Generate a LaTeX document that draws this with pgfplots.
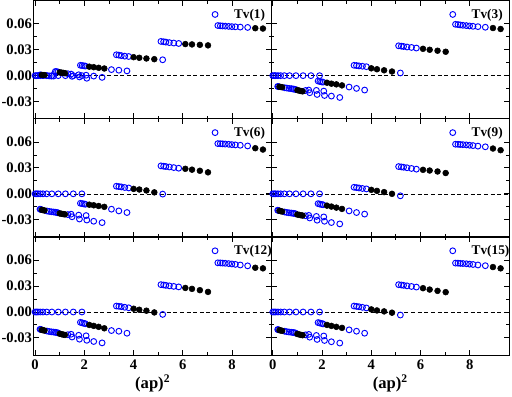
\documentclass[border=0pt]{standalone}
\usepackage{fontspec}
\setmainfont{Liberation Serif}
\usepackage{pgfplots}
\pgfplotsset{compat=1.18}
\usepgfplotslibrary{groupplots}

\pgfplotsset{
  op/.style={only marks, mark=o, mark size=2.2pt, draw=blue, line width=0.7pt},
  fp/.style={only marks, mark=*, mark size=2.2pt, black, forget plot},
  zl/.style={densely dashed, black, line width=0.4pt, forget plot},
}

\begin{document}
\begin{tikzpicture}
\begin{groupplot}[
  group style={group size=2 by 3, horizontal sep=0pt, vertical sep=0pt,
    xticklabels at=edge bottom, yticklabels at=edge left},
  scale only axis, width=179pt, height=89pt,
  xmin=-0.05, xmax=9.6, ymin=-0.05, ymax=0.087,
  xtick={0,2,4,6,8}, minor x tick num=1,
  ytick={-0.03,0,0.03,0.06}, minor y tick num=1,
  scaled y ticks=false,
  major tick length=4pt, minor tick length=2.2pt,
  axis line style={line width=0.9pt}, every tick/.style={line width=0.7pt, black},
  /pgf/number format/assume math mode=true,
  yticklabel={\textbf{\pgfmathprintnumber[fixed, fixed zerofill, precision=2]{\tick}}},
  xticklabel={\textbf{\pgfmathprintnumber[fixed, precision=0]{\tick}}},
  tick label style={font=\fontsize{11}{13}\selectfont\bfseries},
  yticklabel style={inner xsep=1.2pt},
  legend image code/.code={\draw[#1] plot coordinates {(0cm,0cm)}; \path (0.42cm,0cm);},
  legend style={draw=none, fill=none, at={(0.749,0.955)}, anchor=north west,
    inner sep=0pt, font=\fontsize{10}{12}\selectfont\bfseries},
  legend cell align=left,
  xlabel style={font=\fontsize{12.5}{14}\selectfont\bfseries, yshift=3pt},
]
% ---------- Tv(1)
\nextgroupplot
\addplot[zl] coordinates {(-0.05,0) (9.6,0)};
\addplot[op] coordinates {
 (0,0) (0.06,0) (0.12,0) (0.21,0) (0.32,0) (0.47,0) (0.68,0) (0.94,0) (1.23,0) (1.55,0) (1.90,0)
 (0.20,0.0008) (0.23,0.0008) (0.48,0.0000) (0.57,-0.0003) (0.66,-0.0005) (0.75,-0.0005)
 (0.82,0.0048) (0.87,0.0047) (0.93,0.0043) (1.33,0.0022) (1.46,0.0018) (1.77,0.0010) (2.07,0.0005)
 (1.50,-0.0008) (1.80,-0.0015) (2.10,-0.0030) (2.38,-0.0005) (2.72,-0.0020)
 (1.84,0.0120) (1.91,0.0117) (1.98,0.0114) (2.04,0.0111) (3.10,0.0070) (3.40,0.0063) (3.73,0.0055)
 (3.30,0.0242) (3.40,0.0238) (3.50,0.0232) (3.64,0.0226) (3.80,0.0222) (5.18,0.0184)
 (5.11,0.0397) (5.22,0.0393) (5.31,0.0389) (5.45,0.0383) (5.63,0.0378) (5.83,0.0373)
 (7.42,0.0581) (7.52,0.0578) (7.61,0.0576) (7.72,0.0574) (7.86,0.0571) (7.99,0.0568) (8.13,0.0566) (8.33,0.0563) (8.63,0.0559)
};
\addlegendentry{Tv(1)}
\addplot[fp] coordinates {
 (0.27,0.0008) (0.32,0.0007) (0.38,0.0006) (1.00,0.0038) (1.07,0.0035) (1.14,0.0032) (1.21,0.0029)
 (2.20,0.0104) (2.38,0.0098) (2.58,0.0091) (2.81,0.0083)
 (4.00,0.0214) (4.23,0.0207) (4.52,0.0199) (4.84,0.0191)
 (6.10,0.0366) (6.37,0.0362) (6.69,0.0357) (7.02,0.0351)
 (8.94,0.0550) (9.25,0.0546)
};
% ---------- Tv(3)
\nextgroupplot
\addplot[zl] coordinates {(-0.05,0) (9.6,0)};
\addplot[op] coordinates {
 (0,0) (0.06,0) (0.12,0) (0.21,0) (0.32,0) (0.47,0) (0.68,0) (0.94,0) (1.23,0) (1.55,0) (1.90,0)
 (0.20,-0.0125) (0.23,-0.0127) (0.48,-0.0140) (0.57,-0.0144) (0.66,-0.0148) (0.75,-0.0151)
 (0.82,-0.0154) (0.87,-0.0157) (0.93,-0.0161) (1.33,-0.0172) (1.46,-0.0167) (1.77,-0.0171) (2.07,-0.0179)
 (1.50,-0.0198) (1.80,-0.0218) (2.10,-0.0230) (2.38,-0.0237) (2.72,-0.0253)
 (1.84,-0.0062) (1.91,-0.0068) (1.98,-0.0072) (2.04,-0.0075) (3.10,-0.0132) (3.40,-0.0148) (3.73,-0.0167)
 (3.30,0.0120) (3.40,0.0117) (3.50,0.0113) (3.64,0.0109) (3.80,0.0104) (5.18,0.0031)
 (5.11,0.0346) (5.22,0.0342) (5.31,0.0338) (5.45,0.0332) (5.63,0.0327) (5.83,0.0320)
 (7.42,0.0595) (7.52,0.0592) (7.61,0.0588) (7.72,0.0584) (7.86,0.0580) (7.99,0.0576) (8.13,0.0572) (8.33,0.0568) (8.63,0.0561)
};
\addlegendentry{Tv(3)}
\addplot[fp] coordinates {
 (0.27,-0.0129) (0.32,-0.0131) (0.38,-0.0134) (1.00,-0.0168) (1.07,-0.0173) (1.14,-0.0178) (1.21,-0.0182)
 (2.20,-0.0082) (2.38,-0.0093) (2.58,-0.0101) (2.81,-0.0113)
 (4.00,0.0085) (4.23,0.0074) (4.52,0.0062) (4.84,0.0048)
 (6.10,0.0311) (6.37,0.0300) (6.69,0.0289) (7.02,0.0277)
 (8.94,0.0552) (9.25,0.0541)
};
% ---------- Tv(6)
\nextgroupplot
\addplot[zl] coordinates {(-0.05,0) (9.6,0)};
\addplot[op] coordinates {
 (0,0) (0.06,0) (0.12,0) (0.21,0) (0.32,0) (0.47,0) (0.68,0) (0.94,0) (1.23,0) (1.55,0) (1.90,0)
 (0.20,-0.0178) (0.23,-0.0181) (0.48,-0.0199) (0.57,-0.0204) (0.66,-0.0208) (0.75,-0.0211)
 (0.82,-0.0213) (0.87,-0.0216) (0.93,-0.0220) (1.33,-0.0241) (1.46,-0.0236) (1.77,-0.0247) (2.07,-0.0252)
 (1.50,-0.0266) (1.80,-0.0292) (2.10,-0.0304) (2.38,-0.0318) (2.72,-0.0334)
 (1.84,-0.0110) (1.91,-0.0114) (1.98,-0.0117) (2.04,-0.0121) (3.10,-0.0178) (3.40,-0.0198) (3.73,-0.0217)
 (3.30,0.0088) (3.40,0.0084) (3.50,0.0080) (3.64,0.0073) (3.80,0.0068) (5.18,-0.0003)
 (5.11,0.0324) (5.22,0.0320) (5.31,0.0316) (5.45,0.0311) (5.63,0.0304) (5.83,0.0297)
 (7.42,0.0582) (7.52,0.0581) (7.61,0.0579) (7.72,0.0577) (7.86,0.0574) (7.99,0.0570) (8.13,0.0567) (8.33,0.0563) (8.63,0.0555)
};
\addlegendentry{Tv(6)}
\addplot[fp] coordinates {
 (0.27,-0.0185) (0.32,-0.0189) (0.38,-0.0193) (1.00,-0.0227) (1.07,-0.0231) (1.14,-0.0235) (1.21,-0.0238)
 (2.20,-0.0126) (2.38,-0.0133) (2.58,-0.0141) (2.81,-0.0151)
 (4.00,0.0057) (4.23,0.0050) (4.52,0.0039) (4.84,0.0017)
 (6.10,0.0290) (6.37,0.0280) (6.69,0.0267) (7.02,0.0249)
 (8.94,0.0529) (9.25,0.0513)
};
% ---------- Tv(9)
\nextgroupplot
\addplot[zl] coordinates {(-0.05,0) (9.6,0)};
\addplot[op] coordinates {
 (0,0) (0.06,0) (0.12,0) (0.21,0) (0.32,0) (0.47,0) (0.68,0) (0.94,0) (1.23,0) (1.55,0) (1.90,0)
 (0.20,-0.0190) (0.23,-0.0193) (0.48,-0.0211) (0.57,-0.0216) (0.66,-0.0220) (0.75,-0.0223)
 (0.82,-0.0225) (0.87,-0.0228) (0.93,-0.0232) (1.33,-0.0255) (1.46,-0.0250) (1.77,-0.0262) (2.07,-0.0268)
 (1.50,-0.0280) (1.80,-0.0306) (2.10,-0.0318) (2.38,-0.0333) (2.72,-0.0349)
 (1.84,-0.0114) (1.91,-0.0119) (1.98,-0.0123) (2.04,-0.0127) (3.10,-0.0198) (3.40,-0.0217) (3.73,-0.0235)
 (3.30,0.0076) (3.40,0.0072) (3.50,0.0068) (3.64,0.0062) (3.80,0.0057) (5.18,-0.0023)
 (5.11,0.0316) (5.22,0.0312) (5.31,0.0308) (5.45,0.0302) (5.63,0.0294) (5.83,0.0286)
 (7.42,0.0575) (7.52,0.0574) (7.61,0.0572) (7.72,0.0570) (7.86,0.0567) (7.99,0.0563) (8.13,0.0559) (8.33,0.0553) (8.63,0.0545)
};
\addlegendentry{Tv(9)}
\addplot[fp] coordinates {
 (0.27,-0.0197) (0.32,-0.0201) (0.38,-0.0205) (1.00,-0.0240) (1.07,-0.0244) (1.14,-0.0248) (1.21,-0.0252)
 (2.20,-0.0137) (2.38,-0.0148) (2.58,-0.0160) (2.81,-0.0175)
 (4.00,0.0046) (4.23,0.0034) (4.52,0.0020) (4.84,0.0000)
 (6.10,0.0278) (6.37,0.0270) (6.69,0.0259) (7.02,0.0241)
 (8.94,0.0525) (9.25,0.0506)
};
% ---------- Tv(12)
\nextgroupplot[xlabel={(ap)\textsuperscript{2}}]
\addplot[zl] coordinates {(-0.05,0) (9.6,0)};
\addplot[op] coordinates {
 (0,0) (0.06,0) (0.12,0) (0.21,0) (0.32,0) (0.47,0) (0.68,0) (0.94,0) (1.23,0) (1.55,0) (1.90,0)
 (0.20,-0.0200) (0.23,-0.0203) (0.48,-0.0221) (0.57,-0.0226) (0.66,-0.0230) (0.75,-0.0233)
 (0.82,-0.0235) (0.87,-0.0238) (0.93,-0.0242) (1.33,-0.0263) (1.46,-0.0258) (1.77,-0.0270) (2.07,-0.0276)
 (1.50,-0.0290) (1.80,-0.0315) (2.10,-0.0328) (2.38,-0.0342) (2.72,-0.0358)
 (1.84,-0.0120) (1.91,-0.0126) (1.98,-0.0131) (2.04,-0.0136) (3.10,-0.0215) (3.40,-0.0223) (3.73,-0.0246)
 (3.30,0.0069) (3.40,0.0066) (3.50,0.0062) (3.64,0.0055) (3.80,0.0049) (5.18,-0.0028)
 (5.11,0.0317) (5.22,0.0313) (5.31,0.0309) (5.45,0.0303) (5.63,0.0297) (5.83,0.0291)
 (7.42,0.0570) (7.52,0.0569) (7.61,0.0567) (7.72,0.0565) (7.86,0.0561) (7.99,0.0557) (8.13,0.0552) (8.33,0.0545) (8.63,0.0535)
};
\addlegendentry{Tv(12)}
\addplot[fp] coordinates {
 (0.27,-0.0207) (0.32,-0.0211) (0.38,-0.0215) (1.00,-0.0252) (1.07,-0.0257) (1.14,-0.0262) (1.21,-0.0266)
 (2.20,-0.0150) (2.38,-0.0161) (2.58,-0.0172) (2.81,-0.0189)
 (4.00,0.0038) (4.23,0.0026) (4.52,0.0015) (4.84,-0.0005)
 (6.10,0.0279) (6.37,0.0268) (6.69,0.0253) (7.02,0.0233)
 (8.94,0.0513) (9.25,0.0506)
};
% ---------- Tv(15)
\nextgroupplot[xlabel={(ap)\textsuperscript{2}}]
\addplot[zl] coordinates {(-0.05,0) (9.6,0)};
\addplot[op] coordinates {
 (0,0) (0.06,0) (0.12,0) (0.21,0) (0.32,0) (0.47,0) (0.68,0) (0.94,0) (1.23,0) (1.55,0) (1.90,0)
 (0.20,-0.0203) (0.23,-0.0206) (0.48,-0.0223) (0.57,-0.0228) (0.66,-0.0232) (0.75,-0.0235)
 (0.82,-0.0237) (0.87,-0.0240) (0.93,-0.0244) (1.33,-0.0265) (1.46,-0.0260) (1.77,-0.0272) (2.07,-0.0278)
 (1.50,-0.0292) (1.80,-0.0318) (2.10,-0.0330) (2.38,-0.0345) (2.72,-0.0360)
 (1.84,-0.0123) (1.91,-0.0128) (1.98,-0.0133) (2.04,-0.0138) (3.10,-0.0207) (3.40,-0.0223) (3.73,-0.0246)
 (3.30,0.0069) (3.40,0.0065) (3.50,0.0061) (3.64,0.0054) (3.80,0.0047) (5.18,-0.0035)
 (5.11,0.0317) (5.22,0.0313) (5.31,0.0309) (5.45,0.0303) (5.63,0.0296) (5.83,0.0289)
 (7.42,0.0567) (7.52,0.0566) (7.61,0.0564) (7.72,0.0562) (7.86,0.0559) (7.99,0.0555) (8.13,0.0551) (8.33,0.0545) (8.63,0.0537)
};
\addlegendentry{Tv(15)}
\addplot[fp] coordinates {
 (0.27,-0.0210) (0.32,-0.0214) (0.38,-0.0218) (1.00,-0.0255) (1.07,-0.0260) (1.14,-0.0265) (1.21,-0.0269)
 (2.20,-0.0150) (2.38,-0.0161) (2.58,-0.0172) (2.81,-0.0184)
 (4.00,0.0030) (4.23,0.0018) (4.52,0.0007) (4.84,-0.0008)
 (6.10,0.0276) (6.37,0.0260) (6.69,0.0245) (7.02,0.0230)
 (8.94,0.0521) (9.25,0.0506)
};
\end{groupplot}
\end{tikzpicture}
\end{document}
